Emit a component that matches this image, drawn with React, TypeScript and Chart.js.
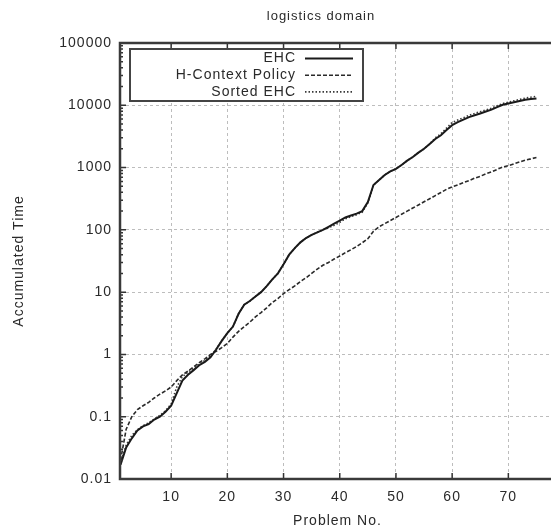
import React, { useEffect, useRef } from "react";
import { Chart, registerables } from "chart.js";
Chart.register(...registerables);

const problemNo = [
  1, 2, 3, 4, 5, 6, 7, 8, 9, 10, 11, 12, 13, 14, 15, 16, 17, 18, 19, 20,
  21, 22, 23, 24, 25, 26, 27, 28, 29, 30, 31, 32, 33, 34, 35, 36, 37, 38, 39, 40,
  41, 42, 43, 44, 45, 46, 47, 48, 49, 50, 51, 52, 53, 54, 55, 56, 57, 58, 59, 60,
  61, 62, 63, 64, 65, 66, 67, 68, 69, 70, 71, 72, 73, 74, 75,
];

const ehc = [
  0.017, 0.032, 0.045, 0.06, 0.07, 0.076, 0.09, 0.1, 0.12, 0.15,
  0.24, 0.38, 0.47, 0.56, 0.67, 0.76, 0.9, 1.2, 1.65, 2.2,
  2.8, 4.5, 6.3, 7.2, 8.5, 10, 12.5, 16, 20, 28,
  40, 51, 63, 74, 83, 91, 100, 112, 126, 141,
  158, 170, 182, 200, 280, 525, 630, 760, 870, 955,
  1100, 1290, 1480, 1740, 2000, 2400, 2880, 3300, 4000, 4800,
  5370, 5900, 6460, 6900, 7400, 7940, 8500, 9330, 10200, 10700,
  11200, 11750, 12300, 12600, 12900,
];

const hContext = [
  0.02, 0.063, 0.1, 0.13, 0.15, 0.17, 0.2, 0.23, 0.26, 0.3,
  0.38, 0.47, 0.54, 0.63, 0.74, 0.85, 1.0, 1.12, 1.29, 1.5,
  1.9, 2.35, 2.8, 3.3, 4.0, 4.7, 5.6, 6.8, 7.9, 9.5,
  11, 12.6, 14.8, 17, 20, 23.4, 27, 30, 34, 38,
  43, 48, 54, 62, 72, 95, 112, 126, 141, 158,
  178, 200, 224, 251, 282, 316, 355, 398, 447, 490,
  525, 575, 617, 676, 724, 794, 851, 933, 1020, 1070,
  1150, 1230, 1320, 1380, 1450,
];

const sortedEhc = [
  0.018, 0.035, 0.05, 0.062, 0.072, 0.08, 0.092, 0.105, 0.125, 0.16,
  0.3, 0.44, 0.52, 0.6, 0.7, 0.8, 0.95, 1.2, 1.65, 2.2,
  2.8, 4.5, 6.3, 7.2, 8.5, 10, 12.5, 16, 20, 28,
  40, 51, 63, 74, 83, 91, 100, 108, 118, 132,
  150, 163, 175, 192, 270, 525, 630, 760, 870, 955,
  1100, 1290, 1480, 1740, 2000, 2400, 3000, 3500, 4300, 5300,
  5800, 6300, 6900, 7400, 7900, 8400, 9000, 9800, 10700, 11200,
  11800, 12400, 13000, 13500, 13900,
];

const seriesNames = ["EHC", "H-Context Policy", "Sorted EHC"];
const xTicks = [10, 20, 30, 40, 50, 60, 70];
const yTicks = [0.01, 0.1, 1, 10, 100, 1000, 10000, 100000];
const yTickLabels = ["0.01", "0.1", "1", "10", "100", "1000", "10000", "100000"];
const yMinorMultipliers = [2, 3, 4, 5, 6, 7, 8, 9];
const titleText = "logistics domain";
const xTitle = "Problem No.";
const yTitle = "Accumulated Time";

const FONT = '"Liberation Sans", Arial, sans-serif';
const TEXT = "#2a2a2a";
const LS = "1px";

const lineStyles = [
  { width: 2, dash: [] as number[], color: "#1a1a1a" },
  { width: 1.6, dash: [4, 2], color: "#2a2a2a" },
  { width: 1.6, dash: [1.5, 2], color: "#3a3a3a" },
];

export default function App() {
  const ref = useRef<HTMLCanvasElement | null>(null);
  useEffect(() => {
    if (!ref.current) return;
    const seriesValues = [ehc, hContext, sortedEhc];
    const setSpacing = {
      id: "spacing",
      beforeLayout(chart: any) {
        chart.ctx.letterSpacing = LS;
      },
      beforeDraw(chart: any) {
        chart.ctx.letterSpacing = LS;
      },
    };
    const decor = {
      id: "decor",
      afterDraw(chart: any) {
        const ctx = chart.ctx as CanvasRenderingContext2D;
        const a = chart.chartArea;
        const xs = chart.scales.x;
        const ys = chart.scales.y;
        ctx.save();
        (ctx as any).letterSpacing = LS;
        // ticks inward
        ctx.strokeStyle = "#333";
        ctx.lineWidth = 1.5;
        ctx.setLineDash([]);
        ctx.beginPath();
        xTicks.forEach((v) => {
          const px = xs.getPixelForValue(v);
          ctx.moveTo(px, a.bottom);
          ctx.lineTo(px, a.bottom - 6);
          ctx.moveTo(px, a.top);
          ctx.lineTo(px, a.top + 6);
        });
        yTicks.forEach((v, i) => {
          const py = ys.getPixelForValue(v);
          ctx.moveTo(a.left, py);
          ctx.lineTo(a.left + 6, py);
          if (i < yTicks.length - 1) {
            yMinorMultipliers.forEach((m) => {
              const pm = ys.getPixelForValue(v * m);
              ctx.moveTo(a.left, pm);
              ctx.lineTo(a.left + 3, pm);
            });
          }
        });
        ctx.stroke();
        // frame
        ctx.strokeStyle = "#3a3a3a";
        ctx.lineWidth = 2.5;
        ctx.strokeRect(a.left, a.top, a.right - a.left, a.bottom - a.top);

        // legend
        const bx = a.left + 10;
        const by = a.top + 6;
        const bw = 233;
        const bh = 52;
        ctx.fillStyle = "#fff";
        ctx.fillRect(bx, by, bw, bh);
        ctx.strokeStyle = "#444";
        ctx.lineWidth = 2;
        ctx.strokeRect(bx, by, bw, bh);
        ctx.font = `14px ${FONT}`;
        ctx.textAlign = "right";
        ctx.textBaseline = "middle";
        seriesNames.forEach((name, i) => {
          const y = by + 9.5 + i * 16.7;
          ctx.fillStyle = TEXT;
          ctx.fillText(name, bx + 166, y);
          const st = lineStyles[i];
          ctx.strokeStyle = st.color;
          ctx.lineWidth = st.width;
          ctx.setLineDash(st.dash);
          ctx.beginPath();
          ctx.moveTo(bx + 175, y);
          ctx.lineTo(bx + 223, y);
          ctx.stroke();
        });
        ctx.setLineDash([]);

        // titles
        ctx.fillStyle = TEXT;
        ctx.textAlign = "center";
        ctx.textBaseline = "middle";
        ctx.font = `13px ${FONT}`;
        ctx.fillText(titleText, 321, 16);
        ctx.font = `14px ${FONT}`;
        ctx.fillText(xTitle, (a.left + a.right) / 2, 521);
        ctx.save();
        ctx.translate(19, (a.top + a.bottom) / 2);
        ctx.rotate(-Math.PI / 2);
        ctx.fillText(yTitle, 0, 0);
        ctx.restore();
        ctx.restore();
      },
    };

    const chart = new Chart(ref.current, {
      type: "line",
      data: {
        datasets: seriesNames.map((name, i) => ({
          label: name,
          data: problemNo.map((n, j) => ({ x: n, y: seriesValues[i][j] })),
          borderColor: lineStyles[i].color,
          borderWidth: lineStyles[i].width,
          borderDash: lineStyles[i].dash,
          pointRadius: 0,
          tension: 0,
          fill: false,
        })),
      },
      options: {
        animation: false,
        responsive: false,
        maintainAspectRatio: false,
        layout: { padding: { top: 43, right: 5, left: 0, bottom: 0 } },
        plugins: {
          legend: { display: false },
          title: { display: false },
          tooltip: { enabled: false },
        },
        scales: {
          x: {
            type: "linear",
            min: 0.9,
            max: 78.3,
            afterBuildTicks: (s: any) => {
              s.ticks = xTicks.map((v) => ({ value: v }));
            },
            afterFit: (s: any) => {
              s.height = 50;
            },
            grid: {
              color: "#bdbdbd",
              lineWidth: 1,
              drawTicks: false,
            },
            border: { display: false, dash: [3, 3] },
            ticks: {
              padding: 10,
              color: TEXT,
              font: { family: FONT, size: 14 },
              maxRotation: 0,
              callback: (v: any) => String(v),
            },
          },
          y: {
            type: "logarithmic",
            min: 0.01,
            max: 100000,
            afterBuildTicks: (s: any) => {
              s.ticks = yTicks.map((v) => ({ value: v }));
            },
            afterFit: (s: any) => {
              s.width = 120;
            },
            grid: {
              color: "#bdbdbd",
              lineWidth: 1,
              drawTicks: false,
            },
            border: { display: false, dash: [3, 3] },
            ticks: {
              padding: 8,
              color: TEXT,
              font: { family: FONT, size: 14 },
              callback: (v: any) => {
                const idx = yTicks.indexOf(Number(v));
                return idx >= 0 ? yTickLabels[idx] : "";
              },
            },
          },
        },
      },
      plugins: [setSpacing, decor],
    });
    return () => chart.destroy();
  }, []);

  return (
    <div style={{ position: "fixed", left: 0, top: 0, width: 560, height: 529, background: "#fff" }}>
      <canvas ref={ref} width={560} height={529} style={{ width: 560, height: 529 }} />
    </div>
  );
}
